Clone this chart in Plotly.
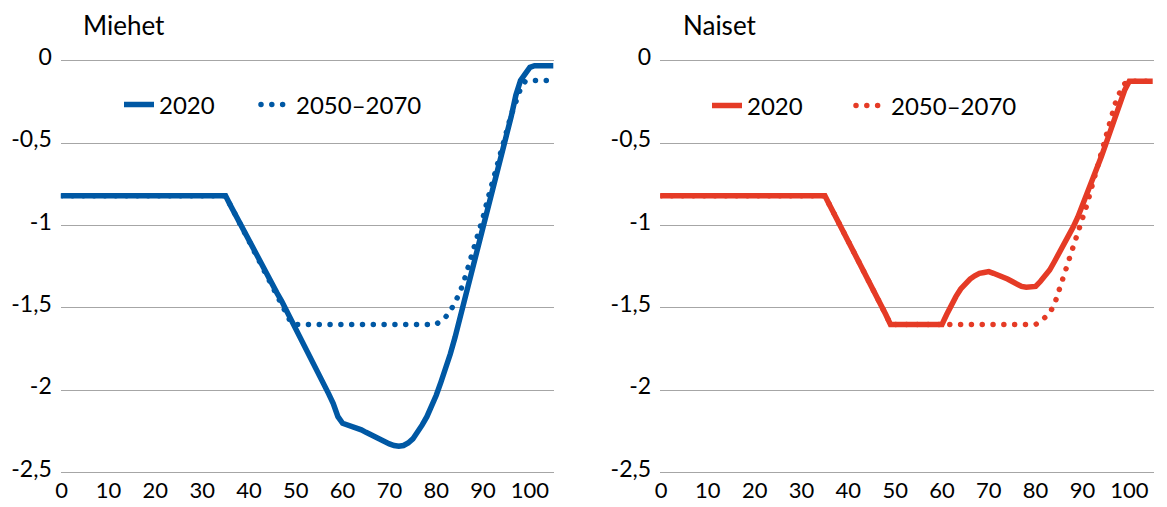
import plotly.graph_objects as go

# Age axis (years) and tick labels
ages = list(range(0, 106))
x_ticks = [0, 10, 20, 30, 40, 50, 60, 70, 80, 90, 100]
y_ticks = [0, -0.5, -1, -1.5, -2, -2.5]
y_ticklabels = ["0", "-0,5", "-1", "-1,5", "-2", "-2,5"]

panel_titles = ["Miehet", "Naiset"]
series_names = ["2020", "2050\u20132070"]

# Men, 2020
men_2020 = [
    -0.82, -0.82, -0.82, -0.82, -0.82, -0.82, -0.82, -0.82, -0.82, -0.82,
    -0.82, -0.82, -0.82, -0.82, -0.82, -0.82, -0.82, -0.82, -0.82, -0.82,
    -0.82, -0.82, -0.82, -0.82, -0.82, -0.82, -0.82, -0.82, -0.82, -0.82,
    -0.82, -0.82, -0.82, -0.82, -0.82, -0.82, -0.875, -0.93, -0.985, -1.04,
    -1.09, -1.145, -1.2, -1.255, -1.31, -1.36, -1.41, -1.46, -1.515, -1.57,
    -1.62, -1.675, -1.73, -1.785, -1.84, -1.9, -1.96, -2.02, -2.08, -2.16,
    -2.2, -2.21, -2.215, -2.225, -2.24, -2.255, -2.27, -2.285, -2.3, -2.315,
    -2.325, -2.335, -2.34, -2.335, -2.32, -2.295, -2.255, -2.21, -2.16, -2.1,
    -2.03, -1.95, -1.87, -1.78, -1.68, -1.57, -1.46, -1.35, -1.24, -1.13,
    -1.02, -0.91, -0.8, -0.69, -0.58, -0.46, -0.34, -0.21, -0.12, -0.08,
    -0.04, -0.03, -0.03, -0.03, -0.03, -0.03,
]

# Men, 2050-2070
men_2050 = [
    -0.82, -0.82, -0.82, -0.82, -0.82, -0.82, -0.82, -0.82, -0.82, -0.82,
    -0.82, -0.82, -0.82, -0.82, -0.82, -0.82, -0.82, -0.82, -0.82, -0.82,
    -0.82, -0.82, -0.82, -0.82, -0.82, -0.82, -0.82, -0.82, -0.82, -0.82,
    -0.82, -0.82, -0.82, -0.82, -0.82, -0.82, -0.875, -0.93, -0.99, -1.05,
    -1.105, -1.16, -1.215, -1.27, -1.325, -1.38, -1.43, -1.485, -1.54, -1.59,
    -1.6, -1.6, -1.6, -1.6, -1.6, -1.6, -1.6, -1.6, -1.6, -1.6,
    -1.6, -1.6, -1.6, -1.6, -1.6, -1.6, -1.6, -1.6, -1.6, -1.6,
    -1.6, -1.6, -1.6, -1.6, -1.6, -1.6, -1.6, -1.6, -1.6, -1.6,
    -1.6, -1.575, -1.555, -1.52, -1.47, -1.41, -1.33, -1.24, -1.155, -1.06,
    -0.95, -0.84, -0.735, -0.63, -0.53, -0.43, -0.33, -0.25, -0.17, -0.125,
    -0.12, -0.12, -0.12, -0.12, -0.12, -0.12,
]

# Women, 2020
women_2020 = [
    -0.82, -0.82, -0.82, -0.82, -0.82, -0.82, -0.82, -0.82, -0.82, -0.82,
    -0.82, -0.82, -0.82, -0.82, -0.82, -0.82, -0.82, -0.82, -0.82, -0.82,
    -0.82, -0.82, -0.82, -0.82, -0.82, -0.82, -0.82, -0.82, -0.82, -0.82,
    -0.82, -0.82, -0.82, -0.82, -0.82, -0.82, -0.875, -0.93, -0.98, -1.03,
    -1.09, -1.145, -1.2, -1.255, -1.31, -1.365, -1.42, -1.48, -1.54, -1.6,
    -1.6, -1.6, -1.6, -1.6, -1.6, -1.6, -1.6, -1.6, -1.6, -1.6,
    -1.6, -1.54, -1.48, -1.43, -1.385, -1.35, -1.325, -1.305, -1.29, -1.285,
    -1.28, -1.29, -1.3, -1.31, -1.325, -1.34, -1.355, -1.37, -1.375, -1.375,
    -1.37, -1.34, -1.305, -1.27, -1.22, -1.17, -1.12, -1.06, -1.01, -0.95,
    -0.88, -0.81, -0.745, -0.665, -0.585, -0.505, -0.425, -0.345, -0.265, -0.18,
    -0.125, -0.125, -0.125, -0.125, -0.125, -0.125,
]

# Women, 2050-2070
women_2050 = [
    -0.82, -0.82, -0.82, -0.82, -0.82, -0.82, -0.82, -0.82, -0.82, -0.82,
    -0.82, -0.82, -0.82, -0.82, -0.82, -0.82, -0.82, -0.82, -0.82, -0.82,
    -0.82, -0.82, -0.82, -0.82, -0.82, -0.82, -0.82, -0.82, -0.82, -0.82,
    -0.82, -0.82, -0.82, -0.82, -0.82, -0.82, -0.875, -0.93, -0.98, -1.03,
    -1.09, -1.145, -1.2, -1.255, -1.31, -1.365, -1.42, -1.48, -1.54, -1.6,
    -1.6, -1.6, -1.6, -1.6, -1.6, -1.6, -1.6, -1.6, -1.6, -1.6,
    -1.6, -1.6, -1.6, -1.6, -1.6, -1.6, -1.6, -1.6, -1.6, -1.6,
    -1.6, -1.6, -1.6, -1.6, -1.6, -1.6, -1.6, -1.6, -1.6, -1.6,
    -1.6, -1.585, -1.56, -1.53, -1.48, -1.395, -1.315, -1.22, -1.125, -1.04,
    -0.955, -0.87, -0.765, -0.665, -0.555, -0.455, -0.36, -0.26, -0.19, -0.14,
    -0.125, -0.125, -0.125, -0.125, -0.125, -0.125,
]

BLUE = "#0058A4"
RED = "#E53B26"
GRID = "#A6A6A6"
FONT = "Lato"
W, H = 1167, 507
LINE_W = 5.5
DOT_DASH = "5px,6px"

fig = go.Figure()

# one legend per legend entry so each can be placed freely
panels = [
    ("x", "y", "legend", "legend3", BLUE, men_2020, men_2050),
    ("x2", "y2", "legend2", "legend4", RED, women_2020, women_2050),
]
for xa, ya, leg_a, leg_b, color, s2020, s2050 in panels:
    fig.add_trace(go.Scatter(
        x=ages, y=s2020, name=series_names[0], mode="lines",
        line=dict(color=color, width=LINE_W), xaxis=xa, yaxis=ya, legend=leg_a,
    ))
    fig.add_trace(go.Scatter(
        x=ages, y=s2050, name=series_names[1], mode="lines",
        line=dict(color=color, width=LINE_W, dash=DOT_DASH), xaxis=xa,
        yaxis=ya, legend=leg_b,
    ))

# plot-area geometry in pixels
left_x0, left_x1 = 61.7, 553.3
right_x0, right_x1 = 661.0, 1152.7
px_per_year = (left_x1 - left_x0) / 105.0
x_pad = 0.2
y_top_px, y_bot_px = 60.7, 472.7          # pixel rows of 0 and -2.5
px_per_unit = (y_bot_px - y_top_px) / 2.5
y_pad = 0.012

def xdom(a, b):
    return [(a - x_pad * px_per_year) / W, (b + x_pad * px_per_year) / W]

ydom = [(H - (y_bot_px + y_pad * px_per_unit)) / H,
        (H - (y_top_px - y_pad * px_per_unit)) / H]

xcommon = dict(
    range=[-x_pad, 105 + x_pad], tickvals=x_ticks, showgrid=False,
    zeroline=False, showline=False, ticks="", ticklabelstandoff=0,
    automargin=False,
    tickfont=dict(family=FONT, size=22, color="#000000"), fixedrange=True,
)
ycommon = dict(
    range=[-2.5 - y_pad, 0 + y_pad], tickvals=y_ticks, ticktext=y_ticklabels,
    showgrid=True, gridcolor=GRID, gridwidth=1.3, zeroline=False,
    showline=False, ticks="", ticklabelstandoff=8, ticklabelshift=-4,
    automargin=False, fixedrange=True,
    tickfont=dict(family=FONT, size=23, color="#000000"), domain=ydom,
)

legend_common = dict(
    orientation="h", yanchor="middle", xanchor="left",
    font=dict(family=FONT, size=24, color="#000000"),
    bgcolor="rgba(0,0,0,0)", borderwidth=0,
    itemclick=False, itemdoubleclick=False,
)

def legend_at(px, py):
    return dict(x=px / W, y=(H - py) / H, **legend_common)

fig.update_layout(
    template="none",
    width=W, height=H,
    margin=dict(l=0, r=0, t=0, b=0, pad=0),
    paper_bgcolor="white", plot_bgcolor="white",
    font=dict(family=FONT, color="#000000"),
    showlegend=True,
    xaxis=dict(domain=xdom(left_x0, left_x1), anchor="y", **xcommon),
    yaxis=dict(anchor="x", **ycommon),
    xaxis2=dict(domain=xdom(right_x0, right_x1), anchor="y2", **xcommon),
    yaxis2=dict(anchor="x2", **ycommon),
    legend=legend_at(119, 105),
    legend3=legend_at(256, 105),
    legend2=legend_at(707, 106),
    legend4=legend_at(851, 106),
    annotations=[
        dict(text=panel_titles[0], xref="paper", yref="paper",
             x=81 / W, y=(H - 25) / H, xanchor="left", yanchor="middle",
             showarrow=False, font=dict(family=FONT, size=26, color="#000000")),
        dict(text=panel_titles[1], xref="paper", yref="paper",
             x=681 / W, y=(H - 25) / H, xanchor="left", yanchor="middle",
             showarrow=False, font=dict(family=FONT, size=26, color="#000000")),
    ],
)

# round the dashes of the dotted series into dots
round_dots_js = """
var gd = document.getElementById('{plot_id}');
function roundDots() {
  gd.querySelectorAll('path').forEach(function (p) {
    var d = p.style.strokeDasharray;
    if (d && d !== 'none') {
      p.style.strokeLinecap = 'round';
      p.style.strokeDasharray = '0.01px, 10.8px';
    }
  });
}
roundDots();
gd.on('plotly_afterplot', roundDots);
"""

fig.write_html("out.html", config={"displayModeBar": False},
               post_script=round_dots_js)
